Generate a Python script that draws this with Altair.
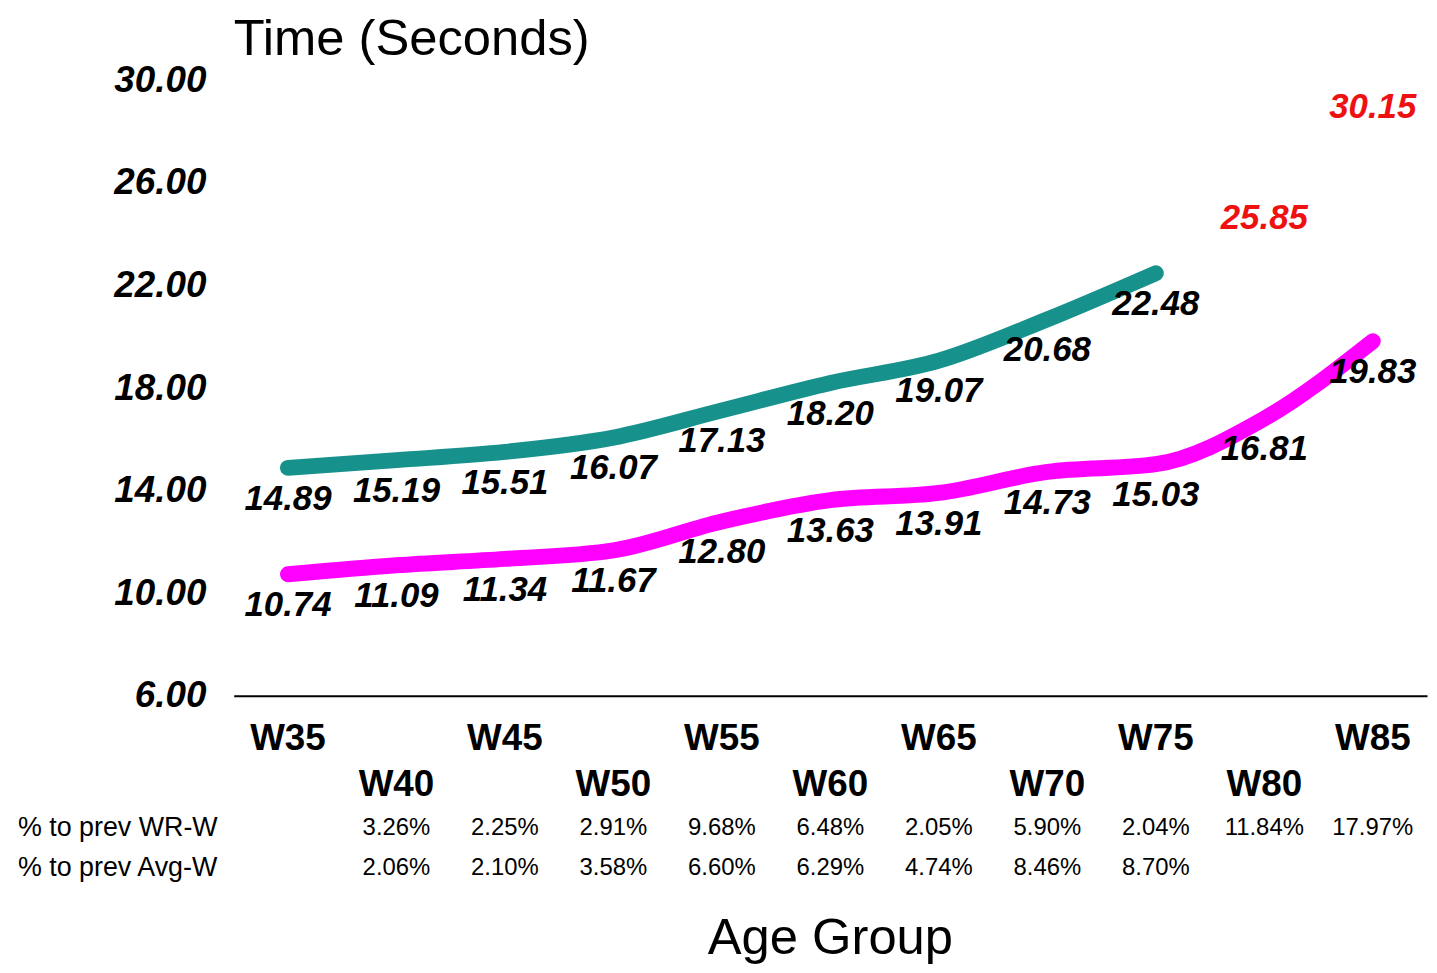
import altair as alt
import pandas as pd

groups = ["W35", "W40", "W45", "W50", "W55", "W60", "W65", "W70", "W75", "W80", "W85"]
wr_w = [10.74, 11.09, 11.34, 11.67, 12.80, 13.63, 13.91, 14.73, 15.03, 16.81, 19.83]
avg_w = [14.89, 15.19, 15.51, 16.07, 17.13, 18.20, 19.07, 20.68, 22.48, 25.85, 30.15]
pct_wr = ["", "3.26%", "2.25%", "2.91%", "9.68%", "6.48%", "2.05%", "5.90%", "2.04%", "11.84%", "17.97%"]
pct_avg = ["", "2.06%", "2.10%", "3.58%", "6.60%", "6.29%", "4.74%", "8.46%", "8.70%", "", ""]
y_ticks = [6, 10, 14, 18, 22, 26, 30]
avg_line_count = 9  # avg line drawn W35..W75, later values shown as red labels only

FONT = "Liberation Sans"
TEAL = "#17918b"
MAGENTA = "#ff00ff"
RED = "#ee1111"

df = pd.DataFrame({
    "group": groups,
    "wr": wr_w,
    "avg": avg_w,
    "pct_wr": pct_wr,
    "pct_avg": pct_avg,
    "idx": list(range(len(groups))),
})

W, H = 1200, 619

xscale = alt.Scale(type="point", domain=groups, padding=0.5)
yscale = alt.Scale(domain=[6, 30], nice=False, zero=False)

x_ax = alt.Axis(title=None, labels=False, ticks=False, domain=True,
                domainColor="black", domainWidth=2, grid=False)
y_ax = alt.Axis(values=y_ticks, format=".2f", title=None, labelFont=FONT,
                labelFontSize=37, labelFontWeight="bold", labelFontStyle="italic",
                labelColor="black", labelPadding=28, domain=False, ticks=False,
                grid=False)

X = alt.X("group:N", scale=xscale, axis=x_ax)

def Y(field):
    return alt.Y(f"{field}:Q", scale=yscale, axis=y_ax)

base = alt.Chart(df)

wr_line = base.mark_line(color=MAGENTA, strokeWidth=16, strokeCap="round",
                         interpolate="monotone").encode(x=X, y=Y("wr"))

avg_line = base.transform_filter(f"datum.idx < {avg_line_count}").mark_line(
    color=TEAL, strokeWidth=16, strokeCap="round", interpolate="monotone").encode(
    x=X, y=Y("avg"))

label_style = dict(font=FONT, fontSize=35, fontWeight="bold", fontStyle="italic",
                   baseline="middle", align="center", dy=31)

wr_labels = base.mark_text(color="black", **label_style).encode(
    x=X, y=Y("wr"), text=alt.Text("wr:Q", format=".2f"))

avg_labels = base.transform_filter(f"datum.idx < {avg_line_count}").mark_text(
    color="black", **label_style).encode(
    x=X, y=Y("avg"), text=alt.Text("avg:Q", format=".2f"))

avg_red = base.transform_filter(f"datum.idx >= {avg_line_count}").mark_text(
    color=RED, **label_style).encode(
    x=X, y=Y("avg"), text=alt.Text("avg:Q", format=".2f"))

xlab_style = dict(font=FONT, fontSize=37, fontWeight="bold", color="black",
                  baseline="middle", align="center")
xlab_row1 = base.transform_filter("datum.idx % 2 == 0").mark_text(**xlab_style).encode(
    x=X, y=alt.value(662), text="group:N")
xlab_row2 = base.transform_filter("datum.idx % 2 == 1").mark_text(**xlab_style).encode(
    x=X, y=alt.value(709), text="group:N")

pct_style = dict(font=FONT, fontSize=24, color="black", baseline="middle", align="center")
pct_row1 = base.mark_text(**pct_style).encode(x=X, y=alt.value(752), text="pct_wr:N")
pct_row2 = base.mark_text(**pct_style).encode(x=X, y=alt.value(792), text="pct_avg:N")

def free_text(txt, xv, yv, size, align="left"):
    return alt.Chart(pd.DataFrame({"t": [txt]})).mark_text(
        font=FONT, fontSize=size, color="black", baseline="middle", align=align).encode(
        x=alt.value(xv), y=alt.value(yv), text="t:N")

row_lab1 = free_text("% to prev WR-W", -217, 752, 27)
row_lab2 = free_text("% to prev Avg-W", -217, 792, 27)
y_title = free_text("Time (Seconds)", 0, -40, 51)
x_title = free_text("Age Group", 600, 864, 51, align="center")

chart = alt.layer(
    wr_line, avg_line, wr_labels, avg_labels, avg_red,
    xlab_row1, xlab_row2, pct_row1, pct_row2,
    row_lab1, row_lab2, y_title, x_title,
).properties(
    width=W, height=H,
    autosize=alt.AutoSizeParams(type="none"),
    padding={"left": 227, "top": 70, "right": 2, "bottom": 273},
    background="white",
).configure_view(stroke=None)

chart.save("out.html", embed_options={"renderer": "svg", "actions": False})
